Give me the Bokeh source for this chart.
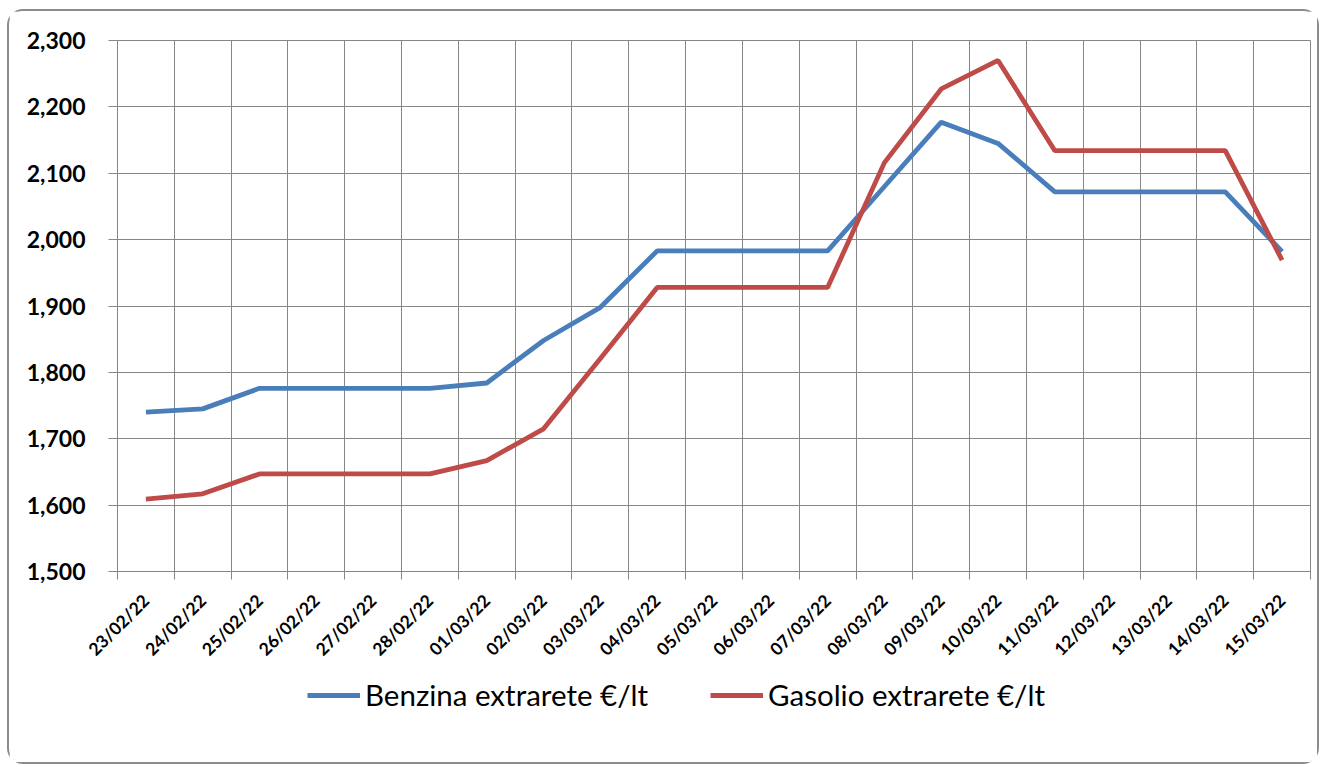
from bokeh.plotting import figure
from bokeh.layouts import column
from bokeh.models import FixedTicker, Legend, LegendItem, Range1d
from bokeh.embed import file_html
from bokeh.resources import INLINE
from math import pi

dates = ["23/02/22", "24/02/22", "25/02/22", "26/02/22", "27/02/22", "28/02/22",
         "01/03/22", "02/03/22", "03/03/22", "04/03/22", "05/03/22", "06/03/22",
         "07/03/22", "08/03/22", "09/03/22", "10/03/22", "11/03/22", "12/03/22",
         "13/03/22", "14/03/22", "15/03/22"]
benzina = [1.740, 1.745, 1.776, 1.776, 1.776, 1.776, 1.784, 1.848, 1.898, 1.983,
           1.983, 1.983, 1.983, 2.080, 2.177, 2.145, 2.072, 2.072, 2.072, 2.072, 1.982]
gasolio = [1.609, 1.617, 1.647, 1.647, 1.647, 1.647, 1.667, 1.715, 1.821, 1.928,
           1.928, 1.928, 1.928, 2.116, 2.227, 2.270, 2.134, 2.134, 2.134, 2.134, 1.969]
y_ticks = [1.5, 1.6, 1.7, 1.8, 1.9, 2.0, 2.1, 2.2, 2.3]
y_labels = ["1,500", "1,600", "1,700", "1,800", "1,900", "2,000", "2,100", "2,200", "2,300"]
series_names = ["Benzina extrarete €/lt", "Gasolio extrarete €/lt"]
colors = ["#4A7EBB", "#BE4B48"]

n = len(dates)
xs = [i + 0.5 for i in range(n)]
bounds = list(range(n + 1))
grid_c = "#868686"

W = 1308
H1 = 660
H2 = 91

p = figure(width=W, height=H1, output_backend="svg", toolbar_location=None,
           x_range=Range1d(0, n), y_range=Range1d(y_ticks[0], y_ticks[-1]),
           min_border_left=108, min_border_right=7, min_border_top=29,
           min_border_bottom=H1 - 560)
p.outline_line_color = grid_c
p.background_fill_color = "white"
p.border_fill_color = "white"

p.xgrid.ticker = FixedTicker(ticks=bounds)
p.xgrid.grid_line_color = grid_c
p.ygrid.grid_line_color = grid_c

p.xaxis.ticker = FixedTicker(ticks=xs, minor_ticks=bounds)
p.xaxis.major_label_overrides = {x: d for x, d in zip(xs, dates)}
p.xaxis.major_tick_line_color = None
p.xaxis.minor_tick_in = 0
p.xaxis.minor_tick_out = 8
p.xaxis.minor_tick_line_color = grid_c
p.xaxis.axis_line_color = grid_c
p.xaxis.major_label_orientation = pi / 4
p.xaxis.major_label_standoff = 18
p.xaxis.major_label_text_font = "Lato"
p.xaxis.major_label_text_font_style = "bold"
p.xaxis.major_label_text_font_size = "17.5px"
p.xaxis.major_label_text_color = "black"

p.yaxis.ticker = FixedTicker(ticks=y_ticks)
p.yaxis.major_label_overrides = {t: s for t, s in zip(y_ticks, y_labels)}
p.yaxis.major_tick_in = 0
p.yaxis.major_tick_out = 9
p.yaxis.major_tick_line_color = grid_c
p.yaxis.minor_tick_line_color = None
p.yaxis.axis_line_color = grid_c
p.yaxis.major_label_standoff = 23
p.yaxis.major_label_text_font = "Lato"
p.yaxis.major_label_text_font_style = "bold"
p.yaxis.major_label_text_font_size = "23px"
p.yaxis.major_label_text_color = "black"

r1 = p.line(xs, benzina, line_color=colors[0], line_width=4.8)
r2 = p.line(xs, gasolio, line_color=colors[1], line_width=4.8)

# legend strip below the chart (single-point lines: nothing visible, only legend swatches)
lf = figure(width=W, height=H2, output_backend="svg", toolbar_location=None,
            x_axis_location=None, y_axis_location=None,
            x_range=Range1d(0, 1), y_range=Range1d(0, 1),
            min_border=0, min_border_left=0, min_border_right=0,
            min_border_top=0, min_border_bottom=0)
lf.outline_line_color = None
lf.xgrid.visible = False
lf.ygrid.visible = False
lf.border_fill_color = "white"
lr1 = lf.line(xs[:1], benzina[:1], line_color=colors[0], line_width=4.8)
lr2 = lf.line(xs[:1], gasolio[:1], line_color=colors[1], line_width=4.8)

legend = Legend(items=[LegendItem(label=series_names[0], renderers=[lr1]),
                       LegendItem(label=series_names[1], renderers=[lr2])],
                orientation="horizontal", location=(190, 50),
                border_line_color=None, background_fill_alpha=0,
                padding=0, margin=0, spacing=62, glyph_width=53, glyph_height=28,
                label_standoff=5, label_text_font="Lato", label_text_font_size="29.5px",
                label_text_color="black")
lf.add_layout(legend)

layout = column(p, lf, spacing=0)
layout.styles = {"border": "2px solid #8c8c8c", "border-radius": "16px",
                 "box-sizing": "border-box", "margin-left": "7px", "margin-top": "9px",
                 "background-color": "white"}

open("out.html", "w").write(file_html(layout, INLINE))
